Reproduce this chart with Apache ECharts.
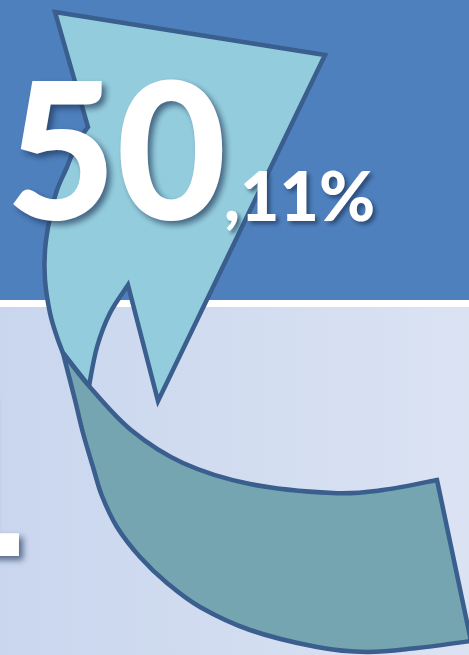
<!DOCTYPE html>
<html>
<head>
<meta charset="utf-8">
<script src="https://cdn.jsdelivr.net/npm/echarts@6/dist/echarts.min.js"></script>
<style>
  html, body { margin: 0; padding: 0; background: #fff; }
  #chart-wrapper { width: 469px; height: 655px; }
</style>
</head>
<body>
<div id="chart-wrapper"></div>
<script>
// values shown on the slide
const mainValue = ["50"];
const decimalValue = [",11%"];
const sideValue = ["1"];

// outline of the curved arrow (pixel space)
const headPoints = [[55, 12], [325, 55], [158, 401], [128, 285]];
const innerCurve = [[128, 285], [110, 313], [97, 347], [89, 386]];
const leftEdge = [[63, 353], [57, 337], [50, 313], [45, 280], [45, 250], [50, 217], [57, 190], [67, 167], [77, 143], [88, 127]];
const ribbonBottom = [[471, 641], [417, 648], [367, 652], [317, 647], [250, 630], [200, 607], [167, 583], [140, 557], [117, 527], [102, 496], [93, 467], [83, 433], [75, 400], [63, 353]];
const ribbonTop = [[63, 353], [89, 386], [131, 430], [183, 463], [250, 484], [333, 493], [383, 490], [437, 480]];

const f = (p) => p[0].toFixed(1) + "," + p[1].toFixed(1);

// catmull-rom through the points, continuing the current path
const smooth = (pts) => {
  let d = "";
  for (let i = 0; i < pts.length - 1; i++) {
    const p0 = pts[i - 1] || pts[i];
    const p1 = pts[i];
    const p2 = pts[i + 1];
    const p3 = pts[i + 2] || p2;
    const c1 = [p1[0] + (p2[0] - p0[0]) / 6, p1[1] + (p2[1] - p0[1]) / 6];
    const c2 = [p2[0] - (p3[0] - p1[0]) / 6, p2[1] - (p3[1] - p1[1]) / 6];
    d += " C" + f(c1) + " " + f(c2) + " " + f(p2);
  }
  return d;
};

const headPath =
  "M" + headPoints.map(f).join(" L") +
  smooth(innerCurve) + " L" + f(leftEdge[0]) + smooth(leftEdge) +
  " L" + f(headPoints[0]) + " Z";

const ribbonPath =
  "M437,480 L" + f(ribbonBottom[0]) +
  smooth(ribbonBottom) + smooth(ribbonTop) + " Z";

const outline = "#3a5e8d";
const shadow = {
  textShadowColor: "rgba(25, 45, 80, 0.65)",
  textShadowBlur: 6,
  textShadowOffsetX: 4,
  textShadowOffsetY: 4,
};

const chartDom = document.getElementById("chart-wrapper");
const chart = echarts.init(chartDom, null, { renderer: "canvas" });

const option = {
  animation: false,
  series: [
    {
      type: "custom",
      coordinateSystem: "none",
      data: [[0]],
      silent: true,
      renderItem: function () {
        return {
          type: "group",
          children: [
            { type: "rect", shape: { x: 0, y: 0, width: 469, height: 300 }, style: { fill: "#4e80bd" } },
            { type: "rect", shape: { x: 0, y: 300, width: 469, height: 7 }, style: { fill: "#ffffff" } },
            {
              type: "rect",
              shape: { x: 0, y: 307, width: 469, height: 348 },
              style: {
                fill: new echarts.graphic.LinearGradient(0, 0, 1, 0, [
                  { offset: 0, color: "#c9d6ee" },
                  { offset: 1, color: "#dbe3f3" },
                ]),
              },
            },
            {
              type: "text",
              style: Object.assign({
                text: sideValue[0],
                x: 32,
                y: 484,
                font: "900 223px Lato",
                fill: "#ffffff",
                align: "right",
                verticalAlign: "middle",
              }, shadow),
            },
            {
              type: "path",
              shape: { pathData: headPath },
              style: { fill: "#93cddd", stroke: outline, lineWidth: 4.5, lineJoin: "miter" },
            },
            {
              type: "path",
              shape: { pathData: ribbonPath },
              style: { fill: "#74a5b1", stroke: outline, lineWidth: 4.5, lineJoin: "miter" },
            },
            {
              type: "text",
              style: Object.assign({
                text: mainValue[0],
                x: 6,
                y: 158,
                font: "900 190px Lato",
                fill: "#ffffff",
                align: "left",
                verticalAlign: "middle",
              }, shadow),
            },
            {
              type: "text",
              style: Object.assign({
                text: decimalValue[0],
                x: 224,
                y: 199,
                font: "900 68px Lato",
                fill: "#ffffff",
                align: "left",
                verticalAlign: "middle",
              }, shadow, { textShadowBlur: 4, textShadowOffsetX: 3, textShadowOffsetY: 3 }),
            },
          ],
        };
      },
    },
  ],
};

option && chart.setOption(option);
</script>
</body>
</html>
